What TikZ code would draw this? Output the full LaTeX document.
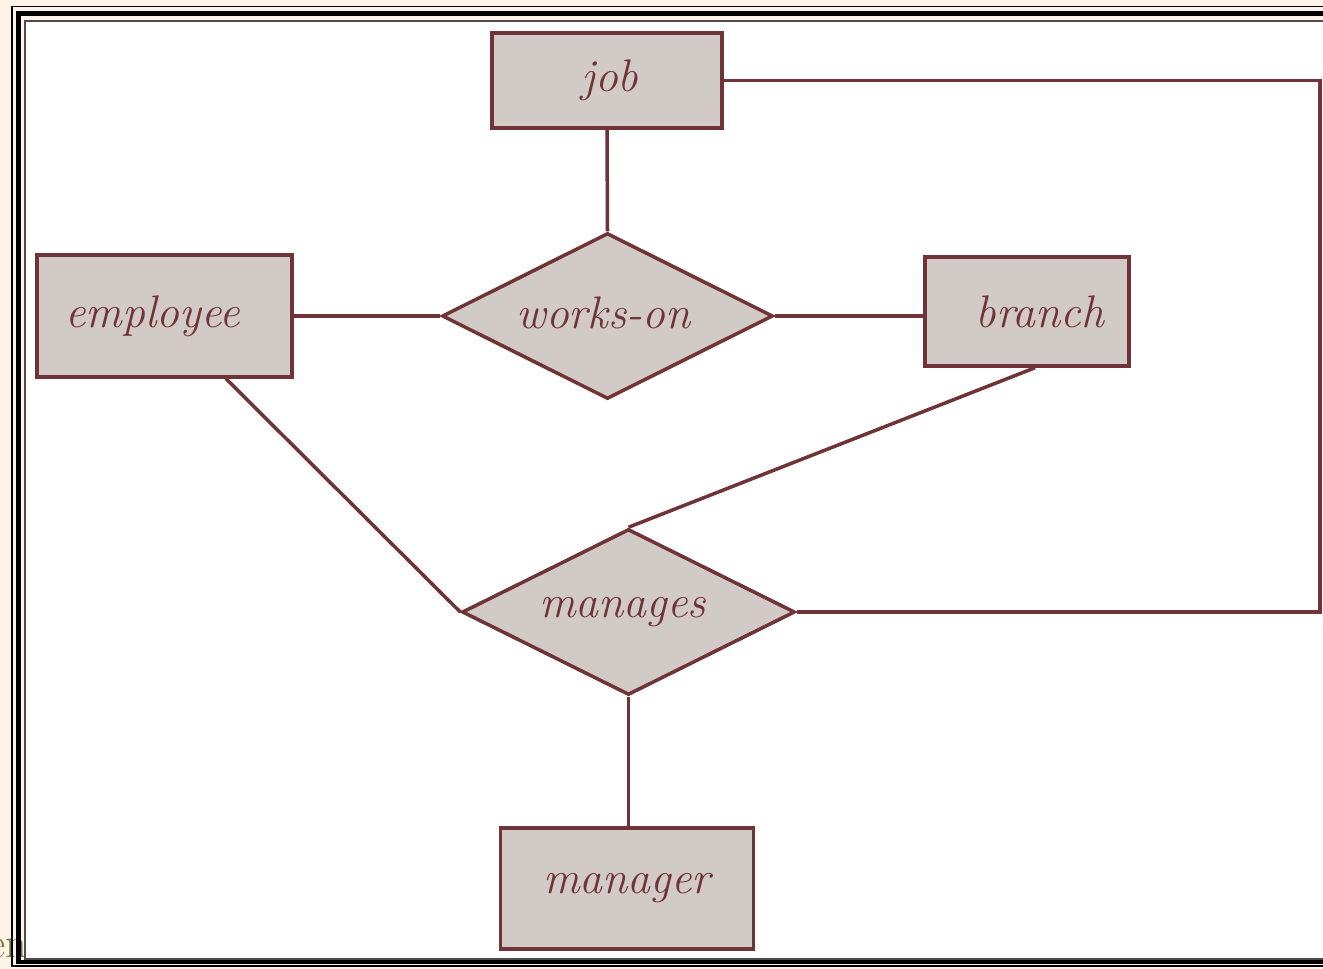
\documentclass[tikz,border=0pt]{standalone}
\usetikzlibrary{shapes.geometric}
\definecolor{cream}{HTML}{FDF4E7}
\definecolor{erline}{HTML}{703438}
\definecolor{erfill}{HTML}{D2CAC7}
\definecolor{olive}{HTML}{7B7A3C}
\begin{document}
\begin{tikzpicture}[x=0.02cm,y=-0.02cm,
  entity/.style={draw=erline,fill=erfill,line width=2pt,rectangle,inner sep=0pt,
    text=erline,font=\fontsize{26}{30}\selectfont\itshape},
  relation/.style={draw=erline,fill=erfill,line width=2pt,diamond,aspect=2,inner sep=0pt,
    text=erline,font=\fontsize{26}{30}\selectfont\itshape},
  link/.style={draw=erline,line width=2pt}]
 \useasboundingbox (0,0) rectangle (1323,969);
 \fill[cream](0,0) rectangle (1323,969);
 \node[olive,font=\fontsize{24}{28}\selectfont,anchor=base east] (slidetext) at (33,957) {en};
 \draw[black,line width=1.1pt](12,6.5) rectangle (1400,966);
 \draw[black,line width=2.8pt](18.5,13.5) rectangle (1400,962);
 \draw[black!70,line width=1.1pt,fill=white](25,21) rectangle (1400,959);
 % entities and relationships
 \node[entity,minimum width=4.6cm,minimum height=1.9cm] (job) at (607,80.5) {\raisebox{2pt}{job}\hspace*{-0.12cm}};
 \node[entity,minimum width=5.1cm,minimum height=2.44cm] (employee) at (164.5,316) {employee\hspace*{0.48cm}};
 \node[relation,minimum width=6.62cm,minimum height=3.32cm] (workson) at (607.5,316) {\raisebox{4pt}{works-on}\hspace*{0.16cm}};
 \node[entity,minimum width=4.08cm,minimum height=2.18cm] (branch) at (1027,311.5) {\hspace*{0.52cm}branch};
 \node[relation,minimum width=6.66cm,minimum height=3.32cm] (manages) at (628.5,612) {manages\hspace*{0.24cm}};
 \node[entity,minimum width=5.06cm,minimum height=2.42cm] (manager) at (627,888.5) {manager};
 \coordinate (turn) at (1320,612);
 % links
 \draw[link](job.south)--(workson.north);
 \draw[link](employee.east)--(workson.west);
 \draw[link](workson.east)--(workson.east -| branch.west);
 \draw[link]([xshift=1.23cm]employee.south)--(manages.west);
 \draw[link]([xshift=0.16cm]branch.south)--(manages.north);
 \draw[link](manages.south)--(manages.south |- manager.north);
 \draw[link](job.east)-|(turn)|-(manages.east);
\end{tikzpicture}
\end{document}
